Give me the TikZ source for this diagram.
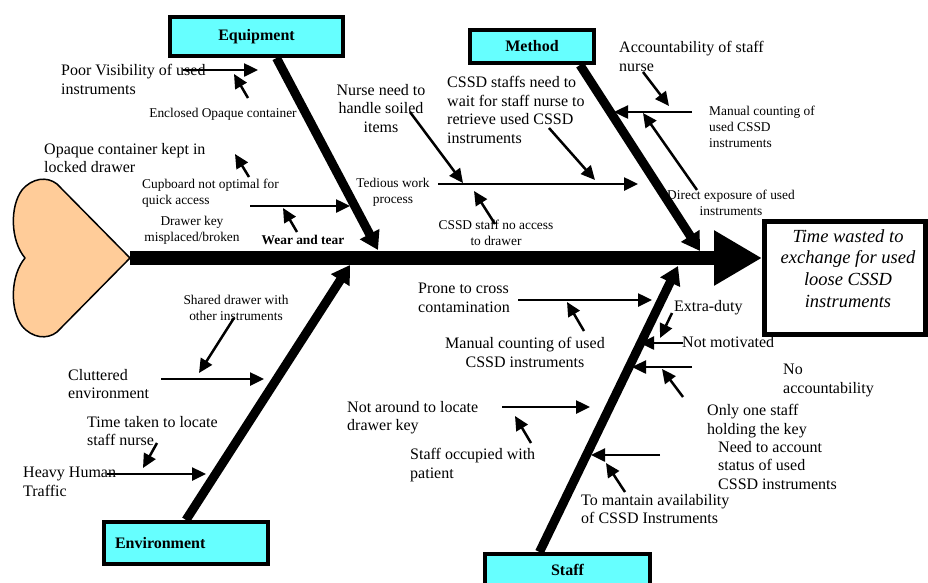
\documentclass[tikz,border=0pt]{standalone}
\usepackage{fontspec}
\setmainfont{Liberation Serif}
\usetikzlibrary{arrows.meta}
\definecolor{boxcyan}{HTML}{66FFFF}
\definecolor{heartorange}{HTML}{FFCC99}

\begin{document}
\begin{tikzpicture}[x=1pt,y=-1pt,>={Triangle[length=14pt,width=13pt]}]
  \tikzstyle{catbox}=[draw,line width=4pt,fill=boxcyan,inner sep=0,
                      font=\fontsize{16}{19}\selectfont\bfseries]
  \tikzstyle{bone}=[line width=9pt,-{Triangle[length=18pt,width=21pt]}]
  \tikzstyle{sub}=[line width=2.5pt,->]
  \tikzstyle{big}=[font=\fontsize{16}{18.6}\selectfont,inner sep=0,
                   align=left,anchor=north west]
  \tikzstyle{small}=[font=\fontsize{13.4}{16}\selectfont,inner sep=0,
                     align=center,anchor=north]
  \useasboundingbox (0,0) rectangle (928,582);

  % effect
  \node [draw,line width=5pt,minimum width=161pt,minimum height=113pt,inner sep=0]
    (head) at (845,278) {};
  \node [font=\fontsize{18.5}{21.7}\selectfont\itshape,align=center,anchor=north,inner sep=0]
    (effect) at (848,229) {Time wasted to\\exchange for used\\loose CSSD\\instruments};

  % spine and tail
  \coordinate (tail) at (130,258);
  \draw [line width=14pt,-{Triangle[length=48pt,width=52pt]}] (tail) -- (head.west |- tail);
  \draw [line width=1.5pt,fill=heartorange,line join=round] (tail) -- (57,184)
    .. controls (47,176) and (32,178) .. (22,190)
    .. controls (10,206) and (10,240) .. (25,258)
    .. controls (10,276) and (10,310) .. (22,326)
    .. controls (32,338) and (47,340) .. (57,332) -- cycle;

  % categories
  \node [catbox,minimum width=173pt,minimum height=39pt] (equip) at (256.5,36.5) {Equipment};
  \node [catbox,minimum width=124pt,minimum height=33pt] (method) at (532,46.5) {Method};
  \node [catbox,text width=142pt,align=left,inner xsep=11pt,minimum height=42pt]
    (env) at (186,543) {Environment};
  \node [catbox,minimum width=165pt,minimum height=32pt,anchor=north] (staff) at (567.5,552) {Staff};

  \coordinate (eqtip) at (378,250);
  \coordinate (metip) at (700,251);
  \coordinate (entip) at (350,265);
  \coordinate (sttip) at (678,266);
  \draw [bone] ([xshift=20pt]equip.south) -- (eqtip);
  \draw [bone] ([xshift=-16pt]method.south east) -- (metip);
  \draw [bone] (env.north) -- (entip);
  \draw [bone] ([xshift=-28pt]staff.north) -- (sttip);

  % equipment causes
  \node [big] (poorvis) at (61,64) {Poor Visibility of used\\instruments};
  \node [small] (enclosed) at (223,108) {Enclosed Opaque container};
  \node [big] (opaque) at (44,143) {Opaque container kept in\\locked drawer};
  \node [small,anchor=north west,align=left] (cupboard) at (142,179) {Cupboard not optimal for\\quick access};
  \node [small] (drawerkey) at (192,216) {Drawer key\\misplaced/broken};
  \node [small,font=\fontsize{13.4}{16}\selectfont\bfseries] (wear) at (303,235) {Wear and tear};
  \coordinate (e1s) at (183,70);  \coordinate (e1e) at (258,70);
  \coordinate (e2s) at (248,98);  \coordinate (e2e) at (234,74);
  \coordinate (e3s) at (249,177); \coordinate (e3e) at (235,154);
  \coordinate (e4s) at (250,206); \coordinate (e4e) at (350,206);
  \coordinate (e5s) at (297,232); \coordinate (e5e) at (283,208);
  \draw [sub] (e1s) -- (e1e);
  \draw [sub] (e2s) -- (e2e);
  \draw [sub] (e3s) -- (e3e);
  \draw [sub] (e4s) -- (e4e);
  \draw [sub] (e5s) -- (e5e);

  % method causes
  \node [big,anchor=north,align=center] (nurse) at (381,84) {Nurse need to\\handle soiled\\items};
  \node [big] (wait) at (447,76) {CSSD staffs need to\\wait for staff nurse to\\retrieve used CSSD\\instruments};
  \node [small] (tedious) at (393,178) {Tedious work\\process};
  \node [small] (noaccess) at (496,220) {CSSD staff no access\\to drawer};
  \node [big] (account) at (619,41) {Accountability of staff\\nurse};
  \node [small,anchor=north west,align=left] (manual) at (709,106) {Manual counting of\\used CSSD\\instruments};
  \node [small] (exposure) at (731,190) {Direct exposure of used\\instruments};
  \coordinate (m1s) at (410,112); \coordinate (m1e) at (463,183);
  \coordinate (m2s) at (549,128); \coordinate (m2e) at (595,180);
  \coordinate (m3s) at (438,184); \coordinate (m3e) at (638,184);
  \coordinate (m4s) at (495,224); \coordinate (m4e) at (474,191);
  \coordinate (m5s) at (643,72);  \coordinate (m5e) at (669,106);
  \coordinate (m6s) at (692,112); \coordinate (m6e) at (614,112);
  \coordinate (m7s) at (697,190); \coordinate (m7e) at (643,113);
  \draw [sub] (m1s) -- (m1e);
  \draw [sub] (m2s) -- (m2e);
  \draw [sub] (m3s) -- (m3e);
  \draw [sub] (m4s) -- (m4e);
  \draw [sub] (m5s) -- (m5e);
  \draw [sub] (m6s) -- (m6e);
  \draw [sub] (m7s) -- (m7e);

  % environment causes
  \node [small] (shared) at (236,295) {Shared drawer with\\other instruments};
  \node [big] (clutter) at (68,369) {Cluttered\\environment};
  \node [big] (locate) at (87,416) {Time taken to locate\\staff nurse};
  \node [big] (traffic) at (23,467) {Heavy Human\\Traffic};
  \coordinate (v1s) at (234,318); \coordinate (v1e) at (199,373);
  \coordinate (v2s) at (161,379); \coordinate (v2e) at (264,379);
  \coordinate (v3s) at (157,443); \coordinate (v3e) at (143,468);
  \coordinate (v4s) at (107,474); \coordinate (v4e) at (206,474);
  \draw [sub] (v1s) -- (v1e);
  \draw [sub] (v2s) -- (v2e);
  \draw [sub] (v3s) -- (v3e);
  \draw [sub] (v4s) -- (v4e);

  % staff causes
  \node [big] (prone) at (418,283) {Prone to cross\\contamination};
  \node [big,anchor=north,align=center] (counting) at (525,337) {Manual counting of used\\CSSD instruments};
  \node [big] (extra) at (674,300) {Extra-duty};
  \node [big] (notmot) at (682,336) {Not motivated};
  \node [big] (noacc) at (783,364) {No\\accountability};
  \node [big] (onekey) at (707,404) {Only one staff\\holding the key};
  \node [big] (status) at (718,441) {Need to account\\status of used\\CSSD instruments};
  \node [big] (mantain) at (581,494) {To mantain availability\\of CSSD Instruments};
  \node [big] (notaround) at (347,401) {Not around to locate\\drawer key};
  \node [big] (occupied) at (410,448) {Staff occupied with\\patient};
  \coordinate (s1s) at (518,300);  \coordinate (s1e) at (652,300);
  \coordinate (s2s) at (584,331);  \coordinate (s2e) at (567,302);
  \coordinate (s3s) at (672,313);  \coordinate (s3e) at (660,338);
  \coordinate (s4s) at (683,343);  \coordinate (s4e) at (640,343);
  \coordinate (s5s) at (692,367);  \coordinate (s5e) at (632,367);
  \coordinate (s6s) at (683,397);  \coordinate (s6e) at (662,369);
  \coordinate (s7s) at (660,455);  \coordinate (s7e) at (591,455);
  \coordinate (s8s) at (625,492);  \coordinate (s8e) at (606,463);
  \coordinate (s9s) at (502,407);  \coordinate (s9e) at (590,407);
  \coordinate (s10s) at (531,443); \coordinate (s10e) at (515,416);
  \draw [sub] (s1s) -- (s1e);
  \draw [sub] (s2s) -- (s2e);
  \draw [sub] (s3s) -- (s3e);
  \draw [sub] (s4s) -- (s4e);
  \draw [sub] (s5s) -- (s5e);
  \draw [sub] (s6s) -- (s6e);
  \draw [sub] (s7s) -- (s7e);
  \draw [sub] (s8s) -- (s8e);
  \draw [sub] (s9s) -- (s9e);
  \draw [sub] (s10s) -- (s10e);
\end{tikzpicture}
\end{document}
